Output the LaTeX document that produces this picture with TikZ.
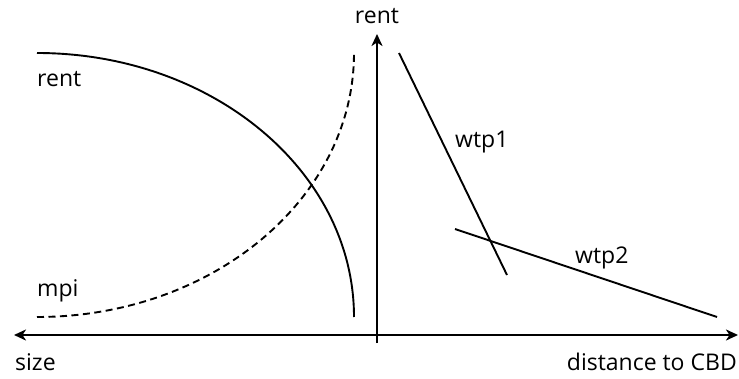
\documentclass[tikz,border=0pt]{standalone}
\usepackage{fontspec}
\setmainfont{Open Sans}
\usetikzlibrary{arrows.meta}
\tikzset{
  axis/.style={line width=2pt, {Stealth[length=12pt,width=11pt,inset=3.5pt]}-{Stealth[length=12pt,width=11pt,inset=3.5pt]}},
  uaxis/.style={line width=2pt, -{Stealth[length=12pt,width=11pt,inset=3.5pt]}},
  curve/.style={line width=1.9pt},
  dcurve/.style={line width=1.9pt, dash pattern=on 7pt off 4.5pt},
  lbl/.style={inner sep=0pt, font=\fontsize{23}{27}\selectfont}
}
\begin{document}
\begin{tikzpicture}[x=1pt,y=1pt]
\useasboundingbox (0,0) rectangle (739,378);
% axes
\coordinate (hl) at (14,43);
\coordinate (hr) at (738,43);
\coordinate (vb) at (377,35);
\coordinate (vt) at (377,344);
\draw[axis] (hl) -- (hr);
\draw[uaxis] (vb) -- (vt);
% labels
\node[lbl, anchor=base] (ylab) at (377,354) {rent};
\node[lbl, anchor=base west] (xlabl) at (15,8) {size};
\node[lbl, anchor=base east] (xlabr) at (737,8) {distance to CBD};
\node[lbl, anchor=base west] (rentlab) at (37,291) {rent};
\node[lbl, anchor=base west] (mpilab) at (37,82) {mpi};
\node[lbl, anchor=base west] (w1lab) at (455,230) {wtp1};
\node[lbl, anchor=base west] (w2lab) at (575,115) {wtp2};
% rent curve
\coordinate (r0) at (37,325);
\draw[curve] (r0) arc[start angle=90, end angle=0, x radius=317, y radius=264];
% mpi curve
\coordinate (m0) at (37,61);
\draw[dcurve] (m0) arc[start angle=270, end angle=360, x radius=317, y radius=264];
% wtp lines
\coordinate (a1) at (399,325);
\coordinate (a2) at (507,103);
\coordinate (b1) at (455,149);
\coordinate (b2) at (717,61);
\draw[curve] (a1) -- (a2);
\draw[curve] (b1) -- (b2);
\end{tikzpicture}
\end{document}
